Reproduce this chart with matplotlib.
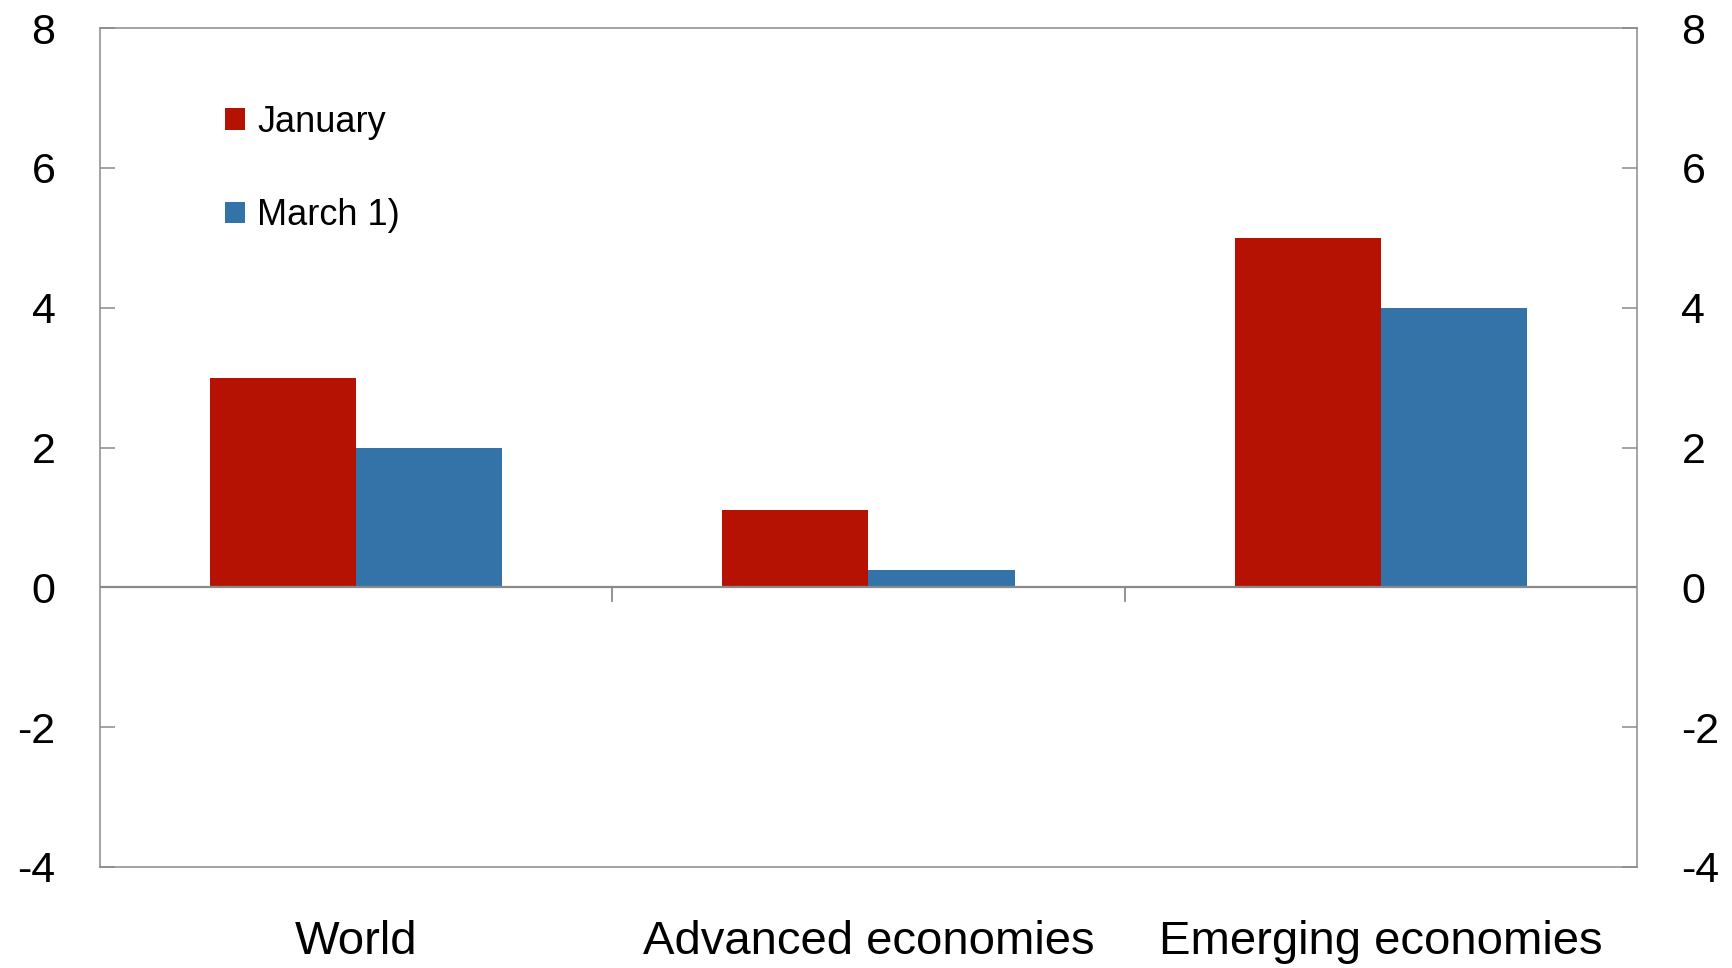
import matplotlib.pyplot as plt
import numpy as np

categories = ["World", "Advanced economies", "Emerging economies"]
january = [3.0, 1.1, 5.0]
march = [2.0, 0.25, 4.0]
series_labels = ["January", "March 1)"]
y_ticks = [-4, -2, 0, 2, 4, 6, 8]

RED = "#b51203"
BLUE = "#3473a7"
GREY = "#8a8a8a"

plt.rcParams["font.family"] = ["Liberation Sans", "DejaVu Sans"]

fig = plt.figure(figsize=(17.33, 9.68), dpi=100)
ax = fig.add_axes([100 / 1733, 1 - 867 / 968, 1537 / 1733, 839 / 968])

x = np.arange(len(categories))
width = 0.285
ax.bar(x - width / 2, january, width, color=RED, label=series_labels[0], zorder=2)
ax.bar(x + width / 2, march, width, color=BLUE, label=series_labels[1], zorder=2)

ax.set_xlim(-0.5, len(categories) - 0.5)
ax.set_ylim(-4, 8)
ax.set_yticks(y_ticks)
ax.set_yticklabels([str(t) for t in y_ticks])

# zero line with small separator ticks between categories
ax.axhline(0, color=GREY, lw=1.6, zorder=3)
for b in x[:-1] + 0.5:
    ax.plot([b, b], [0, -0.2], color=GREY, lw=1.3, zorder=3)

ax.set_xticks(x)
ax.set_xticklabels(categories)
ax.tick_params(axis="x", length=0, pad=38, labelsize=34)
ax.tick_params(axis="y", direction="in", length=11, width=1.1, color=GREY,
               pad=32, labelsize=31, left=True, right=True,
               labelleft=True, labelright=True)

for s in ax.spines.values():
    s.set_color(GREY)
    s.set_linewidth(1.1)

leg = ax.legend(loc="upper left", bbox_to_anchor=(0.0695, 0.93), frameon=False,
                fontsize=26, handlelength=0.55, handleheight=0.55,
                handletextpad=0.35, labelspacing=1.62, borderpad=0)

fig.savefig("out.png", dpi=100)
